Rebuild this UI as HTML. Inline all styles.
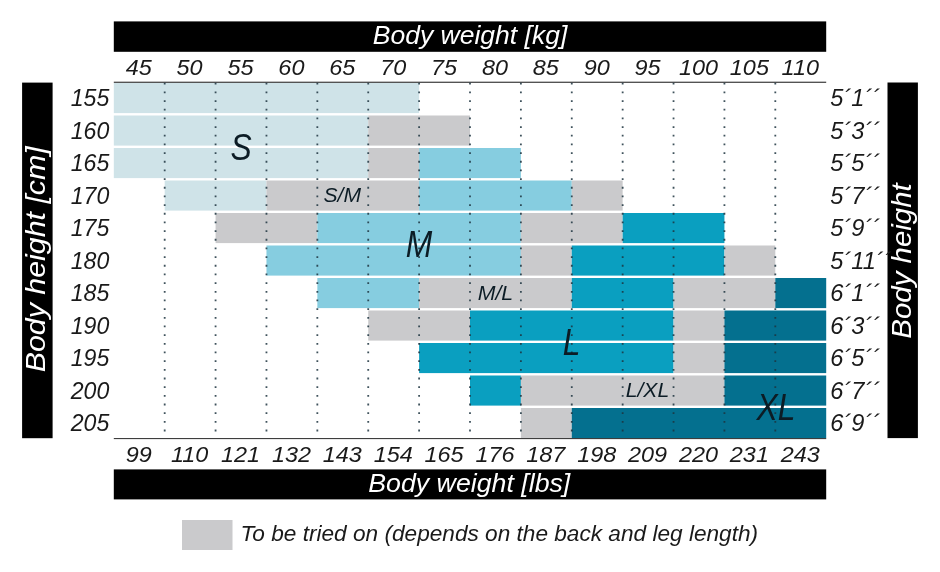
<!DOCTYPE html>
<html lang="en"><head><meta charset="utf-8"><title>Size chart</title>
<style>
html,body{margin:0;padding:0;background:#fff;}
body{width:940px;height:572px;overflow:hidden;}
svg{display:block;font-family:"Liberation Sans",sans-serif;font-style:italic;}
.n{font-size:22.3px;fill:#1a1a1a;}
.r{font-size:23.6px;fill:#1a1a1a;}
.h{font-size:25px;fill:#fff;}
.v{font-size:28px;fill:#fff;}
.b{fill:#0c1c25;}
</style></head><body>
<svg width="940" height="572" viewBox="0 0 940 572">
<rect width="940" height="572" fill="#fff"/>
<rect x="113.80" y="83.00" width="305.31" height="30.1" fill="#cfe3e8"/>
<rect x="113.80" y="115.50" width="254.43" height="30.1" fill="#cfe3e8"/>
<rect x="368.23" y="115.50" width="101.77" height="30.1" fill="#cacacc"/>
<rect x="113.80" y="148.00" width="254.43" height="30.1" fill="#cfe3e8"/>
<rect x="368.23" y="148.00" width="50.89" height="30.1" fill="#cacacc"/>
<rect x="419.11" y="148.00" width="101.77" height="30.1" fill="#86cde0"/>
<rect x="164.69" y="180.50" width="101.77" height="30.1" fill="#cfe3e8"/>
<rect x="266.46" y="180.50" width="152.66" height="30.1" fill="#cacacc"/>
<rect x="419.11" y="180.50" width="152.66" height="30.1" fill="#86cde0"/>
<rect x="571.77" y="180.50" width="50.89" height="30.1" fill="#cacacc"/>
<rect x="215.57" y="213.00" width="101.77" height="30.1" fill="#cacacc"/>
<rect x="317.34" y="213.00" width="203.54" height="30.1" fill="#86cde0"/>
<rect x="520.89" y="213.00" width="101.77" height="30.1" fill="#cacacc"/>
<rect x="622.66" y="213.00" width="101.77" height="30.1" fill="#0a9fc0"/>
<rect x="266.46" y="245.50" width="254.43" height="30.1" fill="#86cde0"/>
<rect x="520.89" y="245.50" width="50.89" height="30.1" fill="#cacacc"/>
<rect x="571.77" y="245.50" width="152.66" height="30.1" fill="#0a9fc0"/>
<rect x="724.43" y="245.50" width="50.89" height="30.1" fill="#cacacc"/>
<rect x="317.34" y="278.00" width="101.77" height="30.1" fill="#86cde0"/>
<rect x="419.11" y="278.00" width="152.66" height="30.1" fill="#cacacc"/>
<rect x="571.77" y="278.00" width="101.77" height="30.1" fill="#0a9fc0"/>
<rect x="673.54" y="278.00" width="101.77" height="30.1" fill="#cacacc"/>
<rect x="775.31" y="278.00" width="50.89" height="30.1" fill="#04708f"/>
<rect x="368.23" y="310.50" width="101.77" height="30.1" fill="#cacacc"/>
<rect x="470.00" y="310.50" width="203.54" height="30.1" fill="#0a9fc0"/>
<rect x="673.54" y="310.50" width="50.89" height="30.1" fill="#cacacc"/>
<rect x="724.43" y="310.50" width="101.77" height="30.1" fill="#04708f"/>
<rect x="419.11" y="343.00" width="254.43" height="30.1" fill="#0a9fc0"/>
<rect x="673.54" y="343.00" width="50.89" height="30.1" fill="#cacacc"/>
<rect x="724.43" y="343.00" width="101.77" height="30.1" fill="#04708f"/>
<rect x="470.00" y="375.50" width="50.89" height="30.1" fill="#0a9fc0"/>
<rect x="520.89" y="375.50" width="203.54" height="30.1" fill="#cacacc"/>
<rect x="724.43" y="375.50" width="101.77" height="30.1" fill="#04708f"/>
<rect x="520.89" y="408.00" width="50.89" height="30.1" fill="#cacacc"/>
<rect x="571.77" y="408.00" width="254.43" height="30.1" fill="#04708f"/>
<rect x="113.8" y="81.7" width="712.40" height="1.1" fill="#2a2a2a"/>
<rect x="113.8" y="438.1" width="712.40" height="1" fill="#2a2a2a"/>
<line x1="164.69" y1="82.8" x2="164.69" y2="438" stroke="#1d3440" stroke-opacity="0.85" stroke-width="1.8" stroke-dasharray="1.8 6.87"/>
<line x1="215.57" y1="82.8" x2="215.57" y2="438" stroke="#1d3440" stroke-opacity="0.85" stroke-width="1.8" stroke-dasharray="1.8 6.87"/>
<line x1="266.46" y1="82.8" x2="266.46" y2="438" stroke="#1d3440" stroke-opacity="0.85" stroke-width="1.8" stroke-dasharray="1.8 6.87"/>
<line x1="317.34" y1="82.8" x2="317.34" y2="438" stroke="#1d3440" stroke-opacity="0.85" stroke-width="1.8" stroke-dasharray="1.8 6.87"/>
<line x1="368.23" y1="82.8" x2="368.23" y2="438" stroke="#1d3440" stroke-opacity="0.85" stroke-width="1.8" stroke-dasharray="1.8 6.87"/>
<line x1="419.11" y1="82.8" x2="419.11" y2="438" stroke="#1d3440" stroke-opacity="0.85" stroke-width="1.8" stroke-dasharray="1.8 6.87"/>
<line x1="470.00" y1="82.8" x2="470.00" y2="438" stroke="#1d3440" stroke-opacity="0.85" stroke-width="1.8" stroke-dasharray="1.8 6.87"/>
<line x1="520.89" y1="82.8" x2="520.89" y2="438" stroke="#1d3440" stroke-opacity="0.85" stroke-width="1.8" stroke-dasharray="1.8 6.87"/>
<line x1="571.77" y1="82.8" x2="571.77" y2="438" stroke="#1d3440" stroke-opacity="0.85" stroke-width="1.8" stroke-dasharray="1.8 6.87"/>
<line x1="622.66" y1="82.8" x2="622.66" y2="438" stroke="#1d3440" stroke-opacity="0.85" stroke-width="1.8" stroke-dasharray="1.8 6.87"/>
<line x1="673.54" y1="82.8" x2="673.54" y2="438" stroke="#1d3440" stroke-opacity="0.85" stroke-width="1.8" stroke-dasharray="1.8 6.87"/>
<line x1="724.43" y1="82.8" x2="724.43" y2="438" stroke="#1d3440" stroke-opacity="0.85" stroke-width="1.8" stroke-dasharray="1.8 6.87"/>
<line x1="775.31" y1="82.8" x2="775.31" y2="438" stroke="#1d3440" stroke-opacity="0.85" stroke-width="1.8" stroke-dasharray="1.8 6.87"/>
<rect x="113.8" y="21.4" width="712.40" height="30.4" fill="#000"/>
<rect x="113.8" y="469.4" width="712.40" height="30" fill="#000"/>
<rect x="22.1" y="82.6" width="30.5" height="355.6" fill="#000"/>
<rect x="887.5" y="82.5" width="30.4" height="355.6" fill="#000"/>
<text class="h" x="470" y="44" text-anchor="middle" textLength="194.5" lengthAdjust="spacingAndGlyphs">Body weight [kg]</text>
<text class="h" x="469.3" y="492" text-anchor="middle" textLength="202" lengthAdjust="spacingAndGlyphs">Body weight [lbs]</text>
<text class="v" transform="translate(45.3 259.25) rotate(-90)" text-anchor="middle" textLength="226" lengthAdjust="spacingAndGlyphs">Body height [cm]</text>
<text class="v" transform="translate(910.5 261) rotate(-90)" text-anchor="middle" textLength="155.5" lengthAdjust="spacingAndGlyphs">Body height</text>
<text class="n" transform="translate(138.74 74.8) scale(1.05 1)" text-anchor="middle">45</text>
<text class="n" transform="translate(138.74 462.1) scale(1.05 1)" text-anchor="middle">99</text>
<text class="n" transform="translate(189.63 74.8) scale(1.05 1)" text-anchor="middle">50</text>
<text class="n" transform="translate(189.63 462.1) scale(1.05 1)" text-anchor="middle">110</text>
<text class="n" transform="translate(240.51 74.8) scale(1.05 1)" text-anchor="middle">55</text>
<text class="n" transform="translate(240.51 462.1) scale(1.05 1)" text-anchor="middle">121</text>
<text class="n" transform="translate(291.40 74.8) scale(1.05 1)" text-anchor="middle">60</text>
<text class="n" transform="translate(291.40 462.1) scale(1.05 1)" text-anchor="middle">132</text>
<text class="n" transform="translate(342.29 74.8) scale(1.05 1)" text-anchor="middle">65</text>
<text class="n" transform="translate(342.29 462.1) scale(1.05 1)" text-anchor="middle">143</text>
<text class="n" transform="translate(393.17 74.8) scale(1.05 1)" text-anchor="middle">70</text>
<text class="n" transform="translate(393.17 462.1) scale(1.05 1)" text-anchor="middle">154</text>
<text class="n" transform="translate(444.06 74.8) scale(1.05 1)" text-anchor="middle">75</text>
<text class="n" transform="translate(444.06 462.1) scale(1.05 1)" text-anchor="middle">165</text>
<text class="n" transform="translate(494.94 74.8) scale(1.05 1)" text-anchor="middle">80</text>
<text class="n" transform="translate(494.94 462.1) scale(1.05 1)" text-anchor="middle">176</text>
<text class="n" transform="translate(545.83 74.8) scale(1.05 1)" text-anchor="middle">85</text>
<text class="n" transform="translate(545.83 462.1) scale(1.05 1)" text-anchor="middle">187</text>
<text class="n" transform="translate(596.71 74.8) scale(1.05 1)" text-anchor="middle">90</text>
<text class="n" transform="translate(596.71 462.1) scale(1.05 1)" text-anchor="middle">198</text>
<text class="n" transform="translate(647.60 74.8) scale(1.05 1)" text-anchor="middle">95</text>
<text class="n" transform="translate(647.60 462.1) scale(1.05 1)" text-anchor="middle">209</text>
<text class="n" transform="translate(698.49 74.8) scale(1.05 1)" text-anchor="middle">100</text>
<text class="n" transform="translate(698.49 462.1) scale(1.05 1)" text-anchor="middle">220</text>
<text class="n" transform="translate(749.37 74.8) scale(1.05 1)" text-anchor="middle">105</text>
<text class="n" transform="translate(749.37 462.1) scale(1.05 1)" text-anchor="middle">231</text>
<text class="n" transform="translate(800.26 74.8) scale(1.05 1)" text-anchor="middle">110</text>
<text class="n" transform="translate(800.26 462.1) scale(1.05 1)" text-anchor="middle">243</text>
<text class="r" transform="translate(109.3 106.40) scale(0.98 1)" text-anchor="end">155</text>
<text class="r" transform="translate(830.3 106.40) scale(1.0 1)">5´1´´</text>
<text class="r" transform="translate(109.3 138.90) scale(0.98 1)" text-anchor="end">160</text>
<text class="r" transform="translate(830.3 138.90) scale(1.0 1)">5´3´´</text>
<text class="r" transform="translate(109.3 171.40) scale(0.98 1)" text-anchor="end">165</text>
<text class="r" transform="translate(830.3 171.40) scale(1.0 1)">5´5´´</text>
<text class="r" transform="translate(109.3 203.90) scale(0.98 1)" text-anchor="end">170</text>
<text class="r" transform="translate(830.3 203.90) scale(1.0 1)">5´7´´</text>
<text class="r" transform="translate(109.3 236.40) scale(0.98 1)" text-anchor="end">175</text>
<text class="r" transform="translate(830.3 236.40) scale(1.0 1)">5´9´´</text>
<text class="r" transform="translate(109.3 268.90) scale(0.98 1)" text-anchor="end">180</text>
<text class="r" transform="translate(830.3 268.90) scale(1.0 1)">5´11´´</text>
<text class="r" transform="translate(109.3 301.40) scale(0.98 1)" text-anchor="end">185</text>
<text class="r" transform="translate(830.3 301.40) scale(1.0 1)">6´1´´</text>
<text class="r" transform="translate(109.3 333.90) scale(0.98 1)" text-anchor="end">190</text>
<text class="r" transform="translate(830.3 333.90) scale(1.0 1)">6´3´´</text>
<text class="r" transform="translate(109.3 366.40) scale(0.98 1)" text-anchor="end">195</text>
<text class="r" transform="translate(830.3 366.40) scale(1.0 1)">6´5´´</text>
<text class="r" transform="translate(109.3 398.90) scale(0.98 1)" text-anchor="end">200</text>
<text class="r" transform="translate(830.3 398.90) scale(1.0 1)">6´7´´</text>
<text class="r" transform="translate(109.3 431.40) scale(0.98 1)" text-anchor="end">205</text>
<text class="r" transform="translate(830.3 431.40) scale(1.0 1)">6´9´´</text>
<text class="b" transform="translate(241 160) scale(0.86 1)" text-anchor="middle" font-size="37">S</text>
<text class="b" transform="translate(419 257.2) scale(0.86 1)" text-anchor="middle" font-size="37">M</text>
<text class="b" transform="translate(571.5 354.8) scale(0.86 1)" text-anchor="middle" font-size="37">L</text>
<text class="b" transform="translate(776 419.8) scale(0.86 1)" text-anchor="middle" font-size="37">XL</text>
<text class="b" x="342.3" y="201.5" text-anchor="middle" font-size="21" textLength="37.5" lengthAdjust="spacingAndGlyphs">S/M</text>
<text class="b" x="495.4" y="300" text-anchor="middle" font-size="21" textLength="35.5" lengthAdjust="spacingAndGlyphs">M/L</text>
<text class="b" x="647.4" y="396.6" text-anchor="middle" font-size="21" textLength="43.5" lengthAdjust="spacingAndGlyphs">L/XL</text>
<rect x="182" y="520" width="50.5" height="30" fill="#cacacc"/>
<text x="240.6" y="540.7" font-size="22.5px" fill="#1a1a1a" textLength="517.5" lengthAdjust="spacingAndGlyphs">To be tried on (depends on the back and leg length)</text>
</svg></body></html>
